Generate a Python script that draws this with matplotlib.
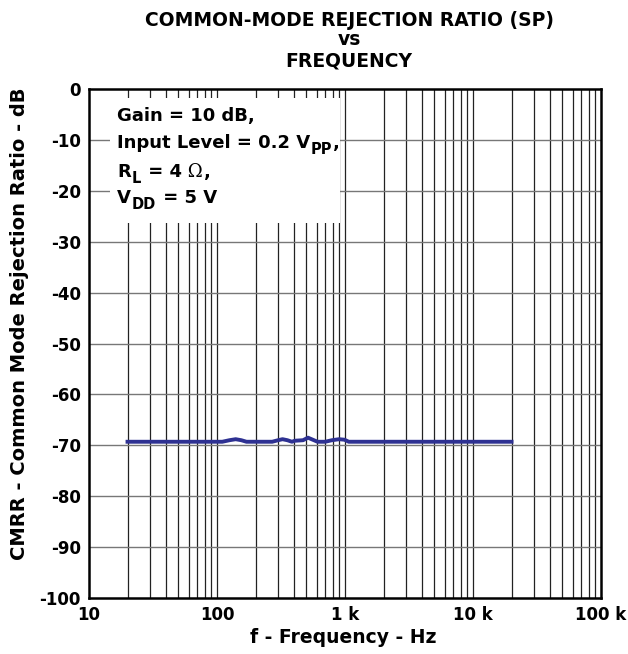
import numpy as np
import matplotlib
matplotlib.use("Agg")
from matplotlib import pyplot as plt
from matplotlib.patches import Rectangle
from matplotlib.ticker import FixedLocator, NullFormatter

plt.rcParams["font.family"] = ["DejaVu Sans"]
plt.rcParams["font.weight"] = "bold"
plt.rcParams["axes.unicode_minus"] = False

# data
freq_hz = [20, 110, 125, 140, 155, 170, 270, 300, 325, 355, 385,
           406, 470, 514, 560, 610, 700, 790, 900, 990, 1070, 20000]
cmrr_db = [-69.3, -69.3, -69.0, -68.8, -69.0, -69.3, -69.3, -69.0, -68.8, -69.0, -69.3,
           -69.1, -69.0, -68.5, -68.9, -69.3, -69.3, -69.0, -68.8, -68.9, -69.3, -69.3]

x_ticks = [10, 100, 1000, 10000, 100000]
x_labels = ["10", "100", "1 k", "10 k", "100 k"]
y_ticks = list(range(-100, 1, 10))

# (text, kind) pieces for each line of the condition box
info_lines = [
    [("Gain = 10 dB,", "n")],
    [("Input Level = 0.2 V", "n"), ("PP", "sub"), (",", "n")],
    [("R", "n"), ("L", "sub"), (" = 4", "n"), (" Ω", "sym"), (",", "n")],
    [("V", "n"), ("DD", "sub"), (" = 5 V", "n")],
]

fig = plt.figure(figsize=(6.28, 6.54), dpi=100)
ax = fig.add_axes([0.1417, 0.0856, 0.8153, 0.7783])
ax.set_xscale("log")
ax.set_xlim(10, 100000)
ax.set_ylim(-100, 0)

# grid
minors = [m * d for d in [10, 100, 1000, 10000] for m in range(2, 10)]
for f in minors + x_ticks[1:-1]:
    ax.axvline(f, color="#222222", lw=0.9, zorder=1)
for y in y_ticks[1:-1]:
    ax.axhline(y, color="#777777", lw=1.0, zorder=1)

ax.add_patch(Rectangle((0.041, 0.737), 0.449, 0.245, transform=ax.transAxes,
                       facecolor="white", edgecolor="none", zorder=2))


def chain_text(pieces, x, y):
    prev = None
    for txt, kind in pieces:
        kw = dict(fontsize=13, fontweight="bold", va="baseline", ha="left", zorder=3)
        dy = 0
        if kind == "sub":
            kw["fontsize"] = 10.5
            dy = -4
        elif kind == "sym":
            kw["family"] = "DejaVu Serif"
            kw["fontweight"] = "normal"
        if prev is None:
            prev = ax.text(x, y, txt, transform=ax.transAxes, **kw)
        else:
            prev = ax.annotate(txt, xy=(1, y), xycoords=(prev, ax.transAxes),
                               xytext=(0.5, dy), textcoords="offset points", **kw)


for pieces, yb in zip(info_lines, [0.937, 0.884, 0.827, 0.776]):
    chain_text(pieces, 0.055, yb)

ax.plot(freq_hz, cmrr_db, color="#2e3192", lw=2.8, zorder=4)

ax.xaxis.set_major_locator(FixedLocator(x_ticks))
ax.xaxis.set_minor_locator(FixedLocator(minors))
ax.xaxis.set_minor_formatter(NullFormatter())
ax.set_xticklabels(x_labels)
ax.set_yticks(y_ticks)
ax.tick_params(which="both", length=0, labelsize=12, pad=6)
for lab in ax.get_xticklabels() + ax.get_yticklabels():
    lab.set_fontweight("bold")
for sp in ax.spines.values():
    sp.set_linewidth(1.8)
    sp.set_zorder(5)

ax.set_xlabel("f - Frequency - Hz", fontsize=13.5, fontweight="bold", va="center")
ax.xaxis.set_label_coords(0.496, -0.077)
ax.set_ylabel("CMRR - Common Mode Rejection Ratio - dB", fontsize=14, fontweight="bold", va="center")
ax.yaxis.set_label_coords(-0.135, 0.538)

fig.text(0.557, 0.9687, "COMMON-MODE REJECTION RATIO (SP)", ha="center", va="center",
         fontsize=13.5, fontweight="bold")
fig.text(0.557, 0.940, "vs", ha="center", va="center", fontsize=13.5, fontweight="bold")
fig.text(0.555, 0.906, "FREQUENCY", ha="center", va="center", fontsize=13.5, fontweight="bold")

fig.savefig("out.png", dpi=100)
